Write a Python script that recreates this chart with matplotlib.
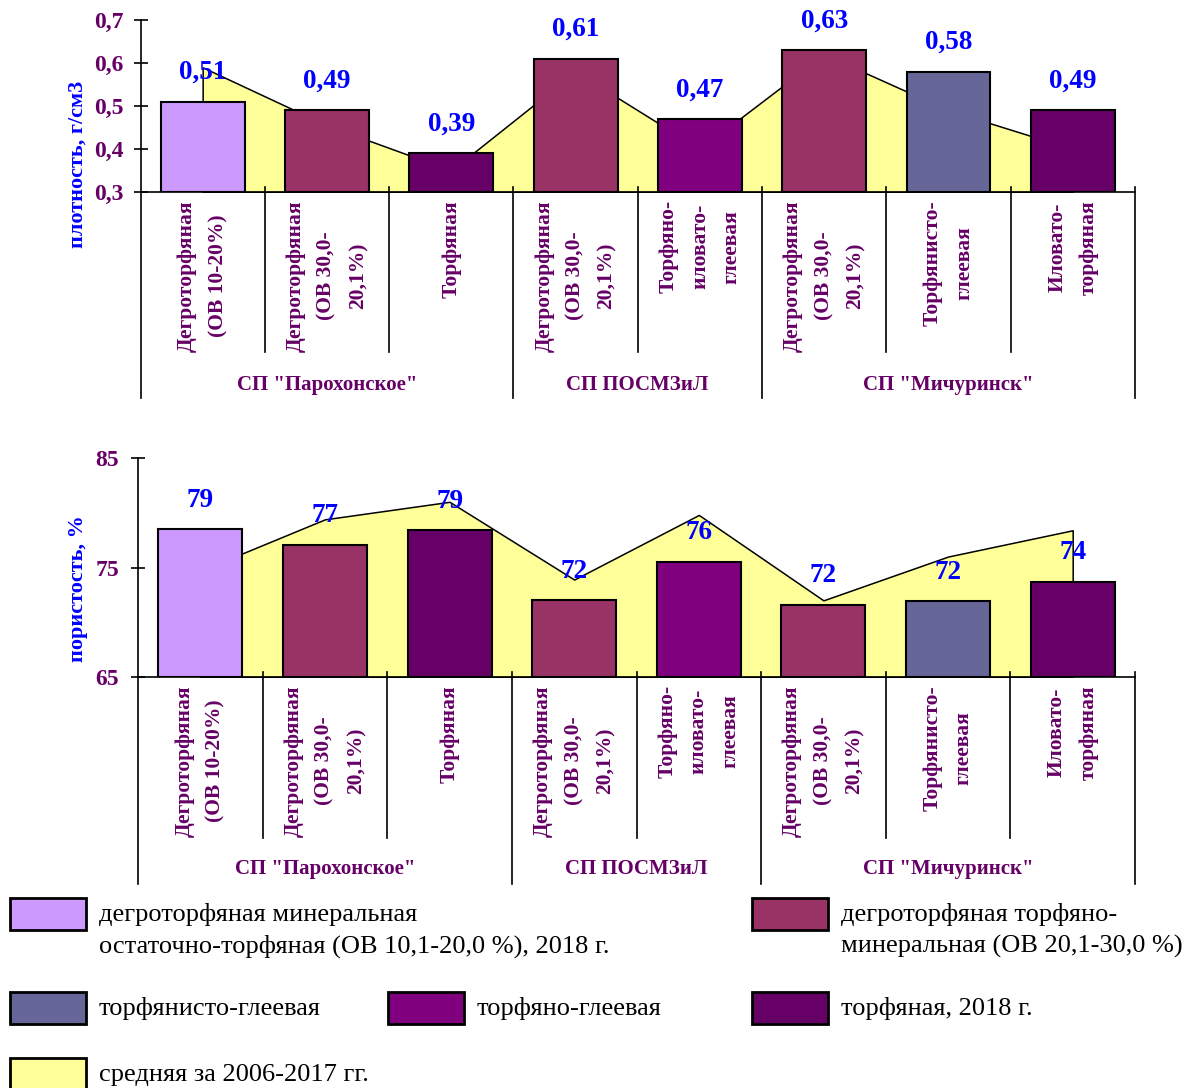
import matplotlib
matplotlib.use("Agg")
import matplotlib.pyplot as plt
import matplotlib.transforms as mtransforms
from matplotlib.patches import Rectangle

plt.rcParams['font.family'] = ['Liberation Serif', 'DejaVu Serif']

# --- data ---
categories = [
    "Дегроторфяная\n(ОВ 10-20%)",
    "Дегроторфяная\n(ОВ 30,0-\n20,1%)",
    "Торфяная",
    "Дегроторфяная\n(ОВ 30,0-\n20,1%)",
    "Торфяно-\nиловато-\nглеевая",
    "Дегроторфяная\n(ОВ 30,0-\n20,1%)",
    "Торфянисто-\nглеевая",
    "Иловато-\nторфяная",
]
groups = ['СП "Парохонское"', 'СП ПОСМЗиЛ', 'СП "Мичуринск"']
group_sizes = [3, 2, 3]

density_2018 = [0.51, 0.49, 0.39, 0.61, 0.47, 0.63, 0.58, 0.49]
density_mean = [0.59, 0.455, 0.35, 0.58, 0.40, 0.62, 0.49, 0.40]
density_labels = ["0,51", "0,49", "0,39", "0,61", "0,47", "0,63", "0,58", "0,49"]

porosity_2018 = [78.5, 77.1, 78.4, 72.0, 75.5, 71.6, 71.9, 73.7]
porosity_mean = [74.7, 79.4, 81.0, 73.9, 79.8, 72.0, 76.0, 78.4]
porosity_labels = ["79", "77", "79", "72", "76", "72", "72", "74"]

bar_colors = ['#CC99FF', '#993366', '#660066', '#993366',
              '#800080', '#993366', '#666699', '#660066']
mean_color = '#FFFF99'

legend_items = [
    ("дегроторфяная минеральная\nостаточно-торфяная (ОВ 10,1-20,0 %), 2018 г.", '#CC99FF'),
    ("дегроторфяная торфяно-\nминеральная (ОВ 20,1-30,0 %)", '#993366'),
    ("торфянисто-глеевая", '#666699'),
    ("торфяно-глеевая", '#800080'),
    ("торфяная, 2018 г.", '#660066'),
    ("средняя за 2006-2017 гг.", '#FFFF99'),
]

W, H = 1186, 1088
dark = '#660066'
blue = '#0000FF'


def fx(px):
    return px / W


def fy(py):
    return 1 - py / H


fig = plt.figure(figsize=(W / 100, H / 100), dpi=100)


def draw_panel(ax, bars, mean, labels, ylim, yticks, yticklabels, tick_pad,
               ylabel, ylabel_py, axis_py, inner_py, group_py, group_label_py):
    x = list(range(len(bars)))
    ax.fill_between(x, ylim[0], mean, facecolor=mean_color,
                    edgecolor='black', linewidth=1.1, zorder=1)
    ax.bar(x, [b - ylim[0] for b in bars], bottom=ylim[0], width=0.675,
           color=bar_colors, edgecolor='black', linewidth=1.5, zorder=2)
    for i, (v, t) in enumerate(zip(bars, labels)):
        ax.annotate(t, (i, v), xytext=(0, 21), textcoords='offset points',
                    ha='center', va='center', fontsize=19.5, fontweight='bold',
                    color=blue, zorder=4)
    ax.set_xlim(-0.5, len(bars) - 0.5)
    ax.set_ylim(*ylim)
    ax.set_yticks(yticks)
    ax.set_yticklabels(yticklabels)
    ax.set_xticks([])
    ax.tick_params(axis='y', direction='inout', length=10, width=1.2,
                   pad=tick_pad, labelsize=17, labelcolor=dark)
    for lbl in ax.get_yticklabels():
        lbl.set_fontweight('bold')
    for s in ['top', 'right']:
        ax.spines[s].set_visible(False)
    for s in ['left', 'bottom']:
        ax.spines[s].set_linewidth(1.2)
    ax.patch.set_alpha(0)

    fig.text(fx(78), fy(ylabel_py), ylabel, rotation=90, ha='center',
             va='center', fontsize=16, fontweight='bold', color=blue)

    # two-level category axis below the plot
    trans = mtransforms.blended_transform_factory(ax.transData, fig.transFigure)
    bounds = [-0.5]
    for g in group_sizes:
        bounds.append(bounds[-1] + g)
    for b in range(len(bars) + 1):
        xb = b - 0.5
        bottom = group_py if xb in bounds else inner_py
        top = axis_py if b == 0 else axis_py - 5
        ax.plot([xb, xb], [fy(top), fy(bottom)], transform=trans,
                color='black', lw=1.2, clip_on=False)
    for i, c in enumerate(categories):
        ax.text(i, fy(axis_py + 8), c, transform=trans, rotation=90,
                ha='center', va='top', multialignment='center',
                linespacing=1.75, fontsize=15.5, fontweight='bold', color=dark)
    for g, name in enumerate(groups):
        cx = (bounds[g] + bounds[g + 1]) / 2
        ax.text(cx, fy(group_label_py), name, transform=trans,
                ha='center', va='center', fontsize=15, fontweight='bold',
                color=dark)


ax1 = fig.add_axes([fx(140.5), fy(192), (1135 - 140.5) / W, (192 - 20) / H])
draw_panel(ax1, density_2018, density_mean, density_labels, (0.3, 0.7),
           [0.3, 0.4, 0.5, 0.6, 0.7], ["0,3", "0,4", "0,5", "0,6", "0,7"], 7,
           "плотность, г/см3", 164, 192, 352, 398, 385)

ax2 = fig.add_axes([fx(138), fy(677), (1135 - 138) / W, (677 - 458) / H])
draw_panel(ax2, porosity_2018, porosity_mean, porosity_labels, (65, 85),
           [65, 75, 85], ["65", "75", "85"], 8.5,
           "пористость, %", 589, 677, 838, 884, 869)

# --- legend drawn by hand ---
legend_boxes = [(10, 898), (752, 898), (10, 992), (388, 992), (752, 992), (10, 1058)]
for (label, color), (bx, by) in zip(legend_items, legend_boxes):
    fig.add_artist(Rectangle((fx(bx), fy(by + 32)), 76 / W, 32 / H,
                             transform=fig.transFigure, facecolor=color,
                             edgecolor='black', linewidth=2))
    for k, line in enumerate(label.split("\n")):
        fig.text(fx(bx + 89), fy(by + 17 + 31 * k), line, ha='left',
                 va='center', fontsize=19, color='black')

fig.savefig("out.png", dpi=100)
